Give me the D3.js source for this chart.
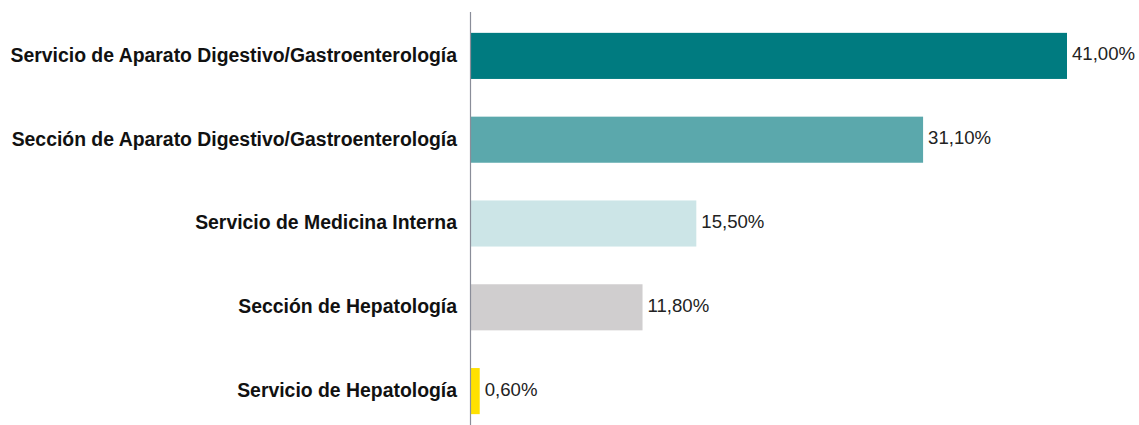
<!DOCTYPE html>
<html><head><meta charset="utf-8">
<script src="https://cdn.jsdelivr.net/npm/d3@7"></script>
<style>body{margin:0;background:#fff}svg{display:block}</style>
</head><body><svg id="c" width="1139" height="425"></svg>
<script>
const categories = [
  "Servicio de Aparato Digestivo/Gastroenterología",
  "Sección de Aparato Digestivo/Gastroenterología",
  "Servicio de Medicina Interna",
  "Sección de Hepatología",
  "Servicio de Hepatología"
];
const values = [41.0, 31.1, 15.5, 11.8, 0.6];
const valueLabels = ["41,00%", "31,10%", "15,50%", "11,80%", "0,60%"];
const colors = ["#007b80", "#5ba8ac", "#cce5e7", "#d0cecf", "#ffe100"];

const svg = d3.select("#c");
const x0 = 470;
const x = d3.scaleLinear().domain([0, 41]).range([x0, 1066]);
const y = d3.scaleBand().domain(categories).range([14, 433]).paddingInner(0.45).paddingOuter(0.225);

svg.selectAll("rect.bar").data(values).join("rect")
  .attr("class", "bar")
  .attr("x", x(0) + 1)
  .attr("y", (d, i) => y(categories[i]))
  .attr("width", d => x(d) - x(0))
  .attr("height", y.bandwidth())
  .attr("fill", (d, i) => colors[i]);

svg.selectAll("text.val").data(values).join("text")
  .attr("class", "val")
  .attr("x", d => x(d) + 6)
  .attr("y", (d, i) => y(categories[i]) + y.bandwidth() / 2)
  .attr("dy", "0.24em")
  .attr("font-family", "Liberation Sans, Arial, sans-serif")
  .attr("font-size", 18.6)
  .attr("fill", "#222")
  .text((d, i) => valueLabels[i]);

const axis = d3.axisLeft(y).tickSize(0).tickPadding(13);
const g = svg.append("g").attr("transform", `translate(${x0},0)`).call(axis);
g.select(".domain").attr("d", "M0.5,12V425").attr("stroke", "#8a8d99").attr("stroke-width", 1.2);
g.selectAll(".tick text")
  .attr("dy", "0.3em")
  .attr("font-family", "Liberation Sans, Arial, sans-serif")
  .attr("font-size", 19.4)
  .attr("font-weight", "bold")
  .attr("fill", "#111");
</script></body></html>
